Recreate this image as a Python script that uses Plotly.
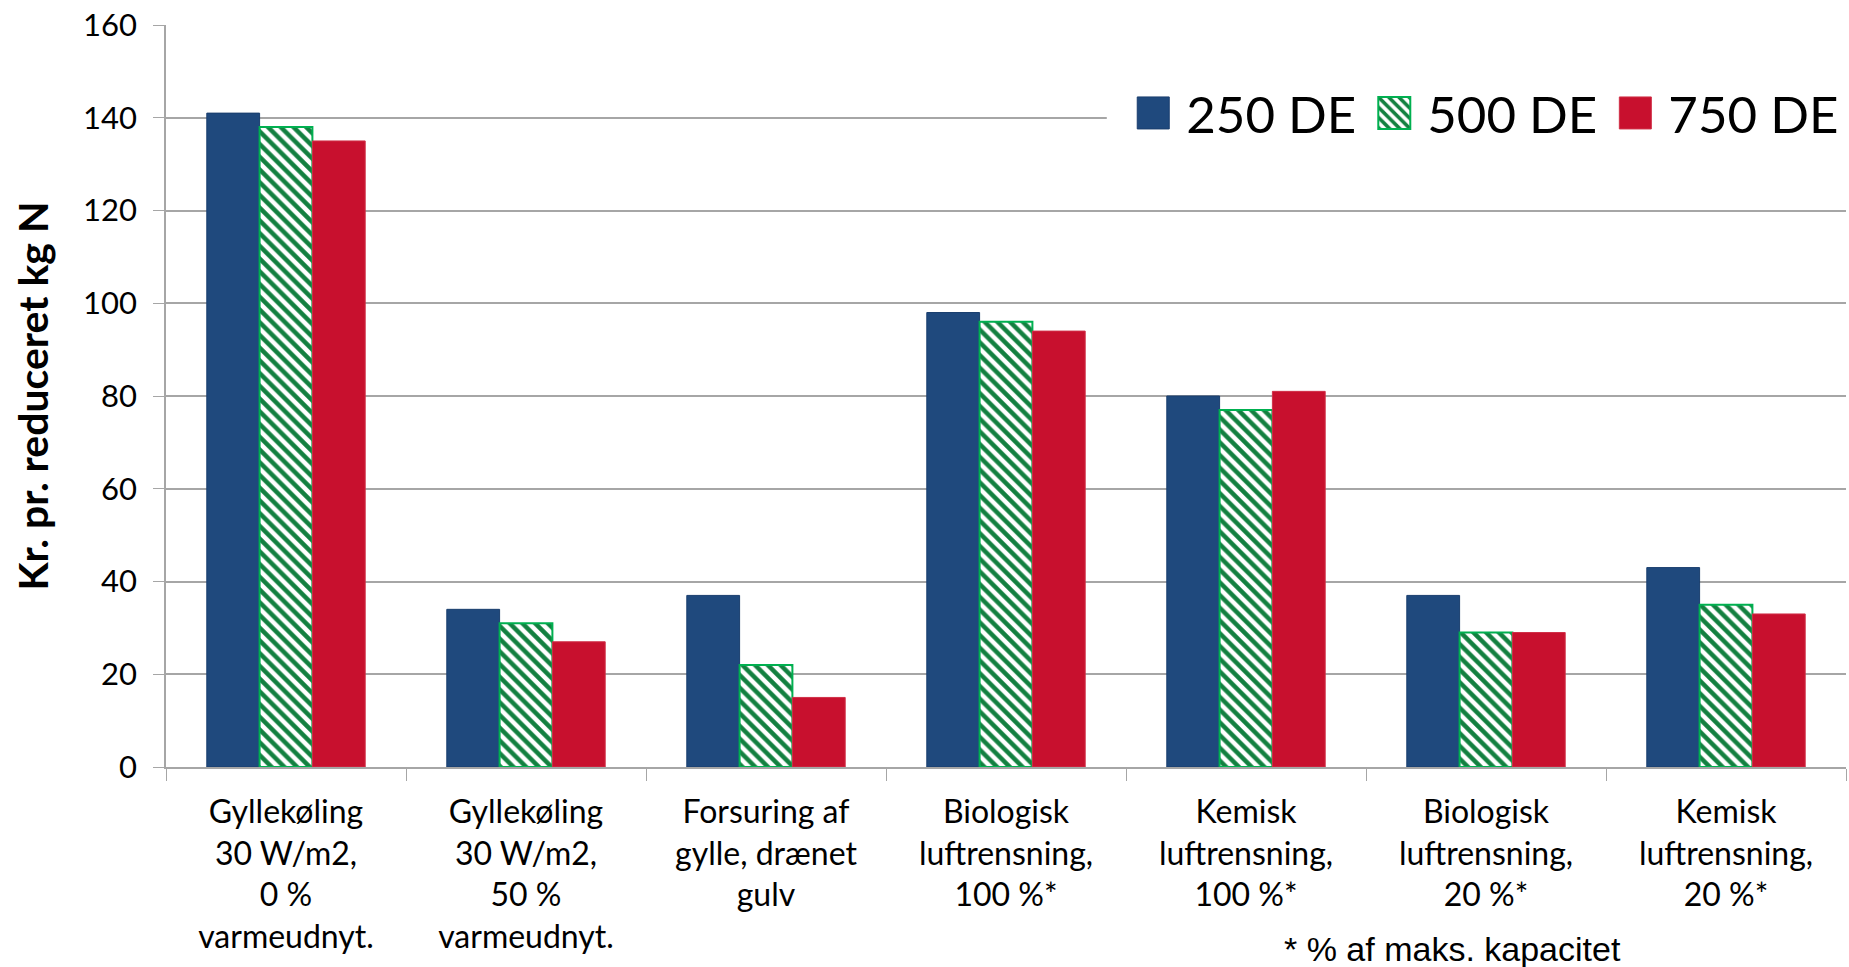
import plotly.graph_objects as go

##############################################################
# Data
##############################################################

categories = [
    "Gyllekøling<br>30 W/m2,<br>0 %<br>varmeudnyt.",
    "Gyllekøling<br>30 W/m2,<br>50 %<br>varmeudnyt.",
    "Forsuring af<br>gylle, drænet<br>gulv",
    "Biologisk<br>luftrensning,<br>100 %*",
    "Kemisk<br>luftrensning,<br>100 %*",
    "Biologisk<br>luftrensning,<br>20 %*",
    "Kemisk<br>luftrensning,<br>20 %*",
]

de_250 = [141, 34, 37, 98, 80, 37, 43]
de_500 = [138, 31, 22, 96, 77, 29, 35]
de_750 = [135, 27, 15, 94, 81, 29, 33]

y_ticks = [0, 20, 40, 60, 80, 100, 120, 140, 160]

footnote = "* % af maks. kapacitet"
y_title = "Kr. pr. reduceret kg N"

##############################################################
# Chart
##############################################################

fig = go.Figure()

fig.add_trace(go.Bar(
    name="250 DE",
    x=categories,
    y=de_250,
    marker=dict(color="#1F497D", line=dict(color="#1A3E6E", width=1)),
))

fig.add_trace(go.Bar(
    name="500 DE",
    x=categories,
    y=de_500,
    marker=dict(
        color="white",
        line=dict(color="#00B050", width=2),
        pattern=dict(shape="\\", fgcolor="#138040", bgcolor="white",
                     fgopacity=1, size=9, solidity=0.5),
    ),
))

fig.add_trace(go.Bar(
    name="750 DE",
    x=categories,
    y=de_750,
    marker=dict(color="#C8102E", line=dict(color="#D03048", width=1)),
))

# white box behind the legend that hides the top gridlines
# (no bars reach this corner, so it can sit above the traces)
fig.add_shape(
    type="rect", xref="paper", yref="paper",
    x0=0.56, x1=1.01, y0=0.80, y1=1.05,
    fillcolor="white", line=dict(width=0), layer="above",
)

fig.add_annotation(
    text=footnote,
    xref="paper", yref="paper",
    x=0.766, y=-0.245,
    xanchor="center", yanchor="middle",
    showarrow=False,
    font=dict(family="Liberation Sans", size=34, color="black"),
)

fig.update_layout(
    width=1849,
    height=967,
    margin=dict(l=166, r=3, t=25, b=200),
    paper_bgcolor="white",
    plot_bgcolor="white",
    barmode="group",
    bargap=0.34,
    bargroupgap=0,
    font=dict(family="Lato", size=32, color="black"),
    showlegend=True,
    legend=dict(
        orientation="h",
        x=0.568, xanchor="left",
        y=0.881, yanchor="middle",
        font=dict(family="Lato", size=51, color="black"),
        bgcolor="rgba(0,0,0,0)",
        itemwidth=56,
        traceorder="normal",
    ),
)

fig.update_xaxes(
    type="category",
    automargin=False,
    showgrid=False,
    showline=True,
    linecolor="#A6A6A6",
    linewidth=1.5,
    ticks="outside",
    tickson="boundaries",
    ticklen=12,
    tickcolor="#A6A6A6",
    tickfont=dict(family="Lato", size=32, color="black"),
    ticklabelstandoff=16,
)

fig.update_yaxes(
    range=[0, 160],
    tickvals=y_ticks,
    automargin=False,
    showgrid=True,
    gridcolor="#A6A6A6",
    gridwidth=1.5,
    showline=True,
    linecolor="#A6A6A6",
    linewidth=1.5,
    ticks="outside",
    ticklen=11,
    tickcolor="#A6A6A6",
    tickfont=dict(family="Lato", size=31, color="black"),
    ticklabelstandoff=10,
    zeroline=False,
    title=dict(
        text=y_title,
        font=dict(family="Lato", size=41, color="black", weight="bold"),
        standoff=22,
    ),
)

# drop the page margin and enlarge the legend swatches
# (plotly draws bar swatches at a fixed 12 px)
post = """
document.body.style.margin = '0';
document.querySelectorAll('.legendpoints path').forEach(function (p) {
    p.setAttribute('d', 'M16,16H-16V-16H16Z');
});
"""

fig.write_html("out.html", post_script=post,
               config={"displayModeBar": False})
